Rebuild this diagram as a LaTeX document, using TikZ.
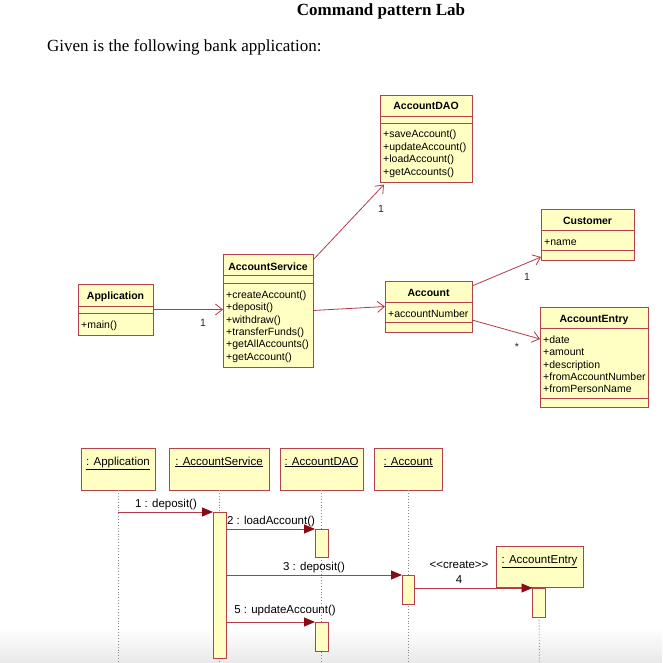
\documentclass[tikz,border=0pt]{standalone}
\usepackage{fontspec}
\setmainfont{Liberation Serif}
\newfontfamily\umlfont{Liberation Sans}
\usetikzlibrary{arrows.meta,calc}
\definecolor{boxred}{HTML}{B5404E}
\definecolor{boxfill}{HTML}{FFFFC4}
\definecolor{linkred}{HTML}{B23A48}
\definecolor{tipred}{HTML}{8B0A14}
\definecolor{lifegray}{HTML}{8A8A8A}
\newcommand\umlbox[7]{%
  \node[cls,minimum width=#4pt,minimum height=#5pt] (#1) at (#2,#3) {};
  \draw[sepline] ($(#1.north west)+(0,#6)$) -- ($(#1.north east)+(0,#6)$);
  \draw[sepline] ($(#1.north west)+(0,#7)$) -- ($(#1.north east)+(0,#7)$);}
\begin{document}
\begin{tikzpicture}[x=1pt,y=-1pt,
  cls/.style={draw=boxred,fill=boxfill,line width=0.9pt,inner sep=0pt,outer sep=0pt,anchor=north west},
  sepline/.style={draw=boxred,line width=0.9pt},
  ctitle/.style={font=\umlfont\bfseries\fontsize{10.5}{12}\selectfont,inner sep=0pt,anchor=base},
  cattr/.style={font=\umlfont\fontsize{10.5}{12.4}\selectfont,inner sep=0pt,anchor=north west,align=left},
  cattrone/.style={font=\umlfont\fontsize{10.5}{12.4}\selectfont,inner sep=0pt,anchor=base west},
  mult/.style={font=\umlfont\fontsize{10.5}{12}\selectfont,inner sep=0pt,text=black!85},
  assoc/.style={draw=linkred,line width=0.8pt,-{Straight Barb[length=7pt,width=11pt,line width=0.8pt]}},
  head/.style={draw=boxred,fill=boxfill,line width=0.9pt,inner sep=0pt,outer sep=0pt,anchor=north west,minimum height=42pt},
  headtext/.style={font=\umlfont\fontsize{11.5}{13}\selectfont,inner sep=0pt,anchor=base},
  bar/.style={draw=boxred,fill=boxfill,line width=0.9pt,inner sep=0pt,outer sep=0pt,anchor=north west},
  life/.style={draw=lifegray,line width=0.9pt,dotted},
  msg/.style={draw=linkred,line width=0.9pt,-{Triangle[length=11pt,width=9pt,fill=tipred,color=tipred]}},
  msgtext/.style={font=\umlfont\fontsize{11.5}{13}\selectfont,inner sep=0pt,anchor=base}
]
\useasboundingbox (0,0) rectangle (662,663);
\shade[top color=white,bottom color=black!9] (0,628) rectangle (662,663);

% title and intro
\node[font=\bfseries\fontsize{17}{20}\selectfont,inner sep=0pt,anchor=base] (title) at (381,16) {Command pattern Lab};
\node[font=\fontsize{17}{20}\selectfont,inner sep=0pt,anchor=base west] (intro) at (47,52) {Given is the following bank application:};

% class diagram
\umlbox{dao}{380}{95}{92}{87}{21}{28}
\node[ctitle] (daot) at (426,110) {AccountDAO};
\node[cattr] (daoa) at (383,130) {+saveAccount()\\+updateAccount()\\+loadAccount()\\+getAccounts()};

\umlbox{cust}{541}{209}{93}{51}{21}{41}
\node[ctitle] (custt) at (587.5,224) {Customer};
\node[cattrone] (custa) at (544,245) {+name};

\umlbox{entry}{540}{307}{108}{100}{21}{91}
\node[ctitle] (entryt) at (594,322) {AccountEntry};
\node[cattr] (entrya) at (543,335.5) {+date\\+amount\\+description\\+fromAccountNumber\\+fromPersonName};

\umlbox{app}{78}{284}{75}{51}{22}{29}
\node[ctitle] (appt) at (115.5,299) {Application};
\node[cattrone] (appa) at (81,328) {+main()};

\umlbox{svc}{223}{254}{90}{113}{21}{29}
\node[ctitle] (svct) at (268,270) {AccountService};
\node[cattr] (svca) at (226,290.5) {+createAccount()\\+deposit()\\+withdraw()\\+transferFunds()\\+getAllAccounts()\\+getAccount()};

\umlbox{acct}{385}{281}{87}{51}{21}{41}
\node[ctitle] (acctt) at (428.5,296) {Account};
\node[cattrone] (accta) at (388,317) {+accountNumber};

\coordinate (daoIn) at ($(dao.south west)+(4,2.5)$);
\draw[assoc] (app.east) -- (svc.west |- app.east);
\draw[assoc] ([yshift=-6pt]svc.north east) -- (daoIn);
\draw[assoc] (svc.east) -- (acct.west);
\draw[assoc] ([yshift=-5pt]acct.north east) -- ([yshift=3pt]cust.south west);
\draw[assoc] ([yshift=12pt]acct.south east) -- ([yshift=-32pt]entry.north west);
\node[mult] (m1) at (203,323) {1};
\node[mult] (m2) at (381,209) {1};
\node[mult] (m3) at (527,277) {1};
\node[mult] (m4) at (517,347) {*};

% sequence diagram
\node[head,minimum width=74pt] (apph) at (81,448) {};
\node[head,minimum width=100pt] (svch) at (169,448) {};
\node[head,minimum width=83pt] (daoh) at (280,448) {};
\node[head,minimum width=68pt] (acch) at (374,448) {};
\node[headtext] (appht) at (apph.north |- 0,465) {\underline{: Application}};
\node[headtext] (svcht) at (svch.north |- 0,465) {\underline{: AccountService}};
\node[headtext] (daoht) at (daoh.north |- 0,465) {\underline{: AccountDAO}};
\node[headtext] (accht) at (acch.north |- 0,465) {\underline{: Account}};

\coordinate (appEnd) at (apph.south |- 0,663);
\coordinate (svcEnd) at (svch.south |- 0,663);
\coordinate (daoEnd) at (daoh.south |- 0,663);
\coordinate (accEnd) at (acch.south |- 0,663);
\draw[life] (apph.south) -- (appEnd);
\draw[life] (svch.south) -- (svcEnd);
\draw[life] (daoh.south) -- (daoEnd);
\draw[life] (acch.south) -- (accEnd);

\node[bar,minimum width=13pt,minimum height=146pt] (a1) at (213,512) {};
\node[bar,minimum width=13pt,minimum height=28pt] (a2) at (315,529) {};
\node[bar,minimum width=12pt,minimum height=29pt] (a3) at (402,575) {};
\node[bar,minimum width=13pt,minimum height=29pt] (a5) at (315,622) {};

\node[head,minimum width=87pt,minimum height=41pt] (enth) at (496,546) {};
\node[headtext] (entht) at (enth.north |- 0,563) {\underline{: AccountEntry}};
\coordinate (entEnd) at (enth.south |- 0,663);
\node[bar,minimum width=13pt,minimum height=29pt] (a4) at (532.5,588) {};
\draw[life] (a4.south) -- (entEnd);

\draw[msg] (apph.south |- a1.north west) -- (a1.north west);
\draw[msg] (a1.east |- a2.north west) -- (a2.north west);
\draw[msg] (a1.east |- a3.north west) -- (a3.north west);
\draw[msg] (a3.east |- a4.north west) -- (a4.north west);
\draw[msg] (a1.east |- a5.north west) -- (a5.north west);

\node[msgtext] (l1) at (166,507) {1 : deposit()};
\node[msgtext] (l2) at (271,524) {2 : loadAccount()};
\node[msgtext] (l3) at (314,570) {3 : deposit()};
\node[msgtext] (l4a) at (459,568) {<<create>>};
\node[msgtext] (l4b) at (459,583) {4};
\node[msgtext] (l5) at (285,613) {5 : updateAccount()};
\end{tikzpicture}
\end{document}
